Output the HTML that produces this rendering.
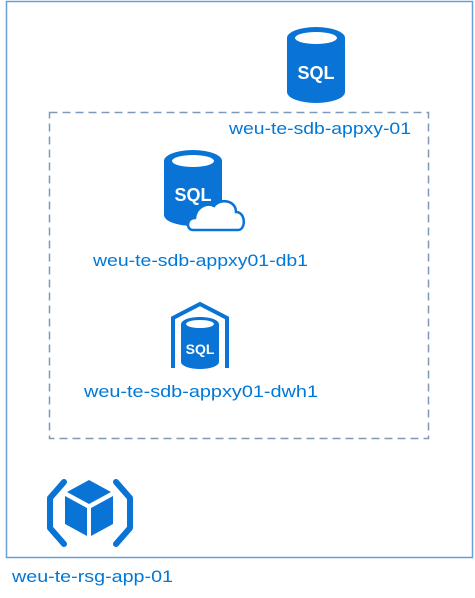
<!DOCTYPE html>
<html><head><style>
html,body{margin:0;padding:0;background:#fff;}
svg{display:block;}
text{font-family:"Liberation Sans",sans-serif;font-size:17px;fill:#0078d7;}
</style></head><body>
<svg width="475" height="598" viewBox="0 0 475 598">
<rect x="6.5" y="1.5" width="466" height="556" fill="none" stroke="#6a9fd4" stroke-width="1.5"/>
<rect x="49.5" y="112.5" width="379" height="326" fill="none" stroke="#7f9ab8" stroke-width="1.5" stroke-dasharray="8,5"/>

<g>
<path d="M287 38 A29 11 0 0 1 345 38 L345 92 A29 11 0 0 1 287 92 Z" fill="#0a74d6"/>
<ellipse cx="316" cy="38" rx="21" ry="6" fill="#fff"/>
<text x="316" y="79" text-anchor="middle" style="font-size:18px;font-weight:bold;fill:#fff">SQL</text>
</g>
<text x="229" y="134" textLength="182" lengthAdjust="spacingAndGlyphs">weu-te-sdb-appxy-01</text>

<g>
<path d="M164 161 A29 11 0 0 1 222 161 L222 215 A29 11 0 0 1 164 215 Z" fill="#0a74d6"/>
<ellipse cx="193" cy="161" rx="21" ry="6" fill="#fff"/>
<text x="193" y="201" text-anchor="middle" style="font-size:18px;font-weight:bold;fill:#fff">SQL</text>
<path d="M193 230 C186 230 186 218 195 218 C196 208 206 202 214 206 C220 198 236 200 236 212 C246 212 246 230 238 230 Z" fill="#fff" stroke="#0a74d6" stroke-width="2.5"/>
</g>
<text x="93" y="266" textLength="215" lengthAdjust="spacingAndGlyphs">weu-te-sdb-appxy01-db1</text>

<g>
<path d="M173 368 L173 318 L200 304 L227 318 L227 368" fill="none" stroke="#0a74d6" stroke-width="4"/>
<path d="M181 324 A19 7 0 0 1 219 324 L219 362 A19 7 0 0 1 181 362 Z" fill="#0a74d6"/>
<ellipse cx="200" cy="324" rx="14" ry="4" fill="#fff"/>
<text x="200" y="354" text-anchor="middle" style="font-size:14px;font-weight:bold;fill:#fff">SQL</text>
</g>
<text x="84" y="397" textLength="234" lengthAdjust="spacingAndGlyphs">weu-te-sdb-appxy01-dwh1</text>

<g fill="#0a74d6" stroke="none">
<path d="M64 482 L50 498 L50 528 L64 544" fill="none" stroke="#0a74d6" stroke-width="6" stroke-linecap="round" stroke-linejoin="round"/>
<path d="M116 482 L130 498 L130 528 L116 544" fill="none" stroke="#0a74d6" stroke-width="6" stroke-linecap="round" stroke-linejoin="round"/>
<path d="M89 480 L111 492 L89 504 L67 492 Z"/>
<path d="M65 496 L87 508 L87 536 L65 524 Z"/>
<path d="M113 496 L91 508 L91 536 L113 524 Z"/>
</g>
<text x="12" y="582" textLength="161" lengthAdjust="spacingAndGlyphs">weu-te-rsg-app-01</text>
</svg>
</body></html>
